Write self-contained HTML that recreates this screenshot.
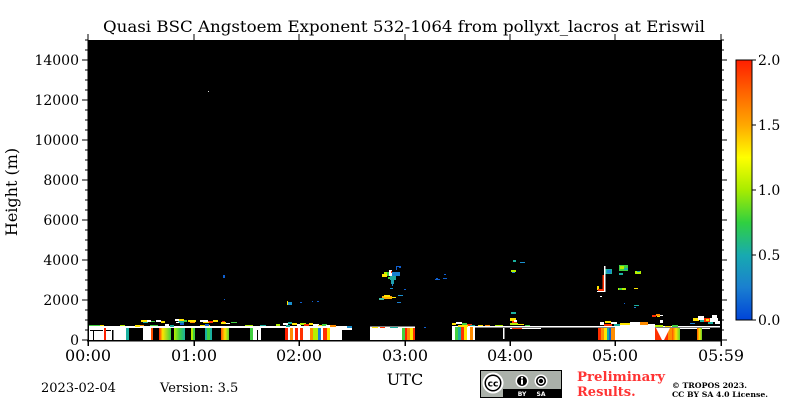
<!DOCTYPE html>
<html><head><meta charset="utf-8"><style>
html,body{margin:0;padding:0;background:#fff;}
svg{display:block;}
</style></head><body>
<svg width="800" height="400" xmlns="http://www.w3.org/2000/svg" font-family="'DejaVu Serif', 'Liberation Serif', serif">
<defs>
<linearGradient id="cb" x1="0" y1="0" x2="0" y2="1">
<stop offset="0" stop-color="#ff1e00"/>
<stop offset="0.125" stop-color="#ff6400"/>
<stop offset="0.25" stop-color="#ffa800"/>
<stop offset="0.375" stop-color="#ffff00"/>
<stop offset="0.5" stop-color="#a8ec00"/>
<stop offset="0.625" stop-color="#30d040"/>
<stop offset="0.75" stop-color="#18aab0"/>
<stop offset="0.875" stop-color="#1a7fd0"/>
<stop offset="1" stop-color="#0044d8"/>
</linearGradient>
<linearGradient id="ryg" x1="0" y1="0" x2="1" y2="0">
<stop offset="0" stop-color="#ff2000"/><stop offset="0.3" stop-color="#ffe600"/><stop offset="1" stop-color="#40d040"/>
</linearGradient>
<linearGradient id="gt" x1="0" y1="0" x2="1" y2="0">
<stop offset="0" stop-color="#b4f000"/><stop offset="0.5" stop-color="#40d040"/><stop offset="1" stop-color="#1ab0a0"/>
</linearGradient>
<linearGradient id="oyg" x1="0" y1="0" x2="1" y2="0">
<stop offset="0" stop-color="#ff5000"/><stop offset="0.5" stop-color="#ffe600"/><stop offset="1" stop-color="#60d030"/>
</linearGradient>
</defs>
<rect width="800" height="400" fill="#fff"/>
<text x="404" y="32" font-size="16" text-anchor="middle" textLength="602" lengthAdjust="spacingAndGlyphs">Quasi BSC Angstoem Exponent 532-1064 from pollyxt_lacros at Eriswil</text>

<rect x="88" y="40" width="633" height="300" fill="#000"/>

<g shape-rendering="crispEdges">
<!-- top white line -->
<rect x="88" y="326" width="257" height="2" fill="#fff"/>
<rect x="370" y="326.5" width="45" height="1.5" fill="#fff"/>
<rect x="452" y="326" width="268" height="1.5" fill="#fff"/>
<rect x="510" y="328" width="31" height="1" fill="#fff"/>
<rect x="680" y="328" width="30" height="1" fill="#fff"/>
<!-- columns -->
<rect x="88" y="328" width="16" height="12" fill="#fff"/>
<rect x="93" y="330" width="1" height="10" fill="#000"/>
<rect x="90" y="330" width="13" height="1" fill="#000"/>
<rect x="104" y="328" width="2" height="12" fill="#ff2000"/>
<rect x="106" y="328" width="20" height="12" fill="#fff"/>
<rect x="112" y="330" width="1.5" height="10" fill="#000"/>
<rect x="106" y="330" width="5" height="1" fill="#000"/>
<rect x="126" y="328" width="3" height="12" fill="#1ab0a0"/>
<rect x="143" y="328" width="8" height="12" fill="#fff"/>
<rect x="151" y="328" width="2" height="12" fill="#ff5000"/>
<rect x="159" y="328" width="12" height="12" fill="url(#ryg)"/>
<rect x="174" y="328" width="11" height="12" fill="url(#gt)"/>
<rect x="191" y="328" width="4" height="12" fill="#b4f000"/>
<rect x="193" y="328" width="2" height="12" fill="#40d040"/>
<rect x="205" y="328" width="7" height="12" fill="#1ab0a0"/>
<rect x="207" y="328" width="3" height="12" fill="#40d040"/>
<rect x="221" y="328" width="8" height="12" fill="url(#oyg)"/>
<rect x="250" y="328" width="3" height="12" fill="#40d040"/>
<rect x="253" y="328" width="8" height="12" fill="#fff"/>
<rect x="257" y="330" width="1" height="10" fill="#000"/>
<rect x="285" y="328" width="3" height="12" fill="#ff2000"/>
<rect x="288" y="328" width="2" height="12" fill="#fff"/>
<rect x="290" y="328" width="3" height="12" fill="#ff8c00"/>
<rect x="293" y="328" width="2" height="12" fill="#fff"/>
<rect x="295" y="328" width="3" height="12" fill="#ff2000"/>
<rect x="298" y="328" width="2" height="12" fill="#fff"/>
<rect x="300" y="328" width="3" height="12" fill="#ff3000"/>
<rect x="303" y="328" width="7" height="12" fill="#fff"/>
<rect x="310" y="328" width="3" height="12" fill="#ff8c00"/>
<rect x="313" y="328" width="5" height="12" fill="#b4f000"/>
<rect x="318" y="328" width="3" height="12" fill="#1a80d0"/>
<rect x="321" y="328" width="2" height="12" fill="#fff"/>
<rect x="323" y="328" width="4" height="12" fill="#ff3000"/>
<rect x="327" y="328" width="3" height="12" fill="#ffe600"/>
<rect x="330" y="328" width="12" height="12" fill="#fff"/>
<rect x="342" y="326" width="10" height="4" fill="#fff"/>
<rect x="370" y="327" width="32" height="13" fill="#fff"/>
<rect x="402" y="328" width="3" height="12" fill="#40d040"/>
<rect x="405" y="328" width="2" height="12" fill="#ff2000"/>
<rect x="407" y="328" width="3" height="12" fill="#ff8c00"/>
<rect x="410" y="328" width="3" height="12" fill="#ffe600"/>
<rect x="413" y="328" width="2" height="12" fill="#ff3000"/>
<rect x="452" y="327" width="3" height="13" fill="#fff"/>
<rect x="455" y="327" width="3" height="13" fill="#40d040"/>
<rect x="458" y="327" width="3" height="13" fill="#1ab0a0"/>
<rect x="461" y="327" width="3" height="13" fill="#ff3000"/>
<rect x="464" y="327" width="3" height="13" fill="#ffe600"/>
<rect x="467" y="327" width="3" height="13" fill="#fff"/>
<rect x="470" y="327" width="3" height="13" fill="#ff8c00"/>
<rect x="473" y="327" width="2" height="13" fill="#fff"/>
<rect x="503" y="328" width="1.5" height="11" fill="#fff"/>
<rect x="598" y="328" width="3" height="12" fill="#ff3000"/>
<rect x="601" y="328" width="3" height="12" fill="#ff8c00"/>
<rect x="604" y="328" width="3" height="12" fill="#ffe600"/>
<rect x="607" y="328" width="2" height="12" fill="#1ab0a0"/>
<rect x="609" y="328" width="2" height="12" fill="#1060d0"/>
<rect x="611" y="328" width="4" height="12" fill="#ff8c00"/>
<rect x="615" y="324" width="40" height="16" fill="#fff"/>
<rect x="655" y="328" width="17" height="12" fill="#ff3000"/>
<rect x="668" y="328" width="4" height="12" fill="#ff8c00"/>
<polygon points="656,328 670,328 664,340 662,340" fill="#fff"/>
<rect x="672" y="328" width="8" height="12" fill="url(#oyg)"/>
<rect x="697" y="328" width="5" height="12" fill="url(#oyg)"/>
<!-- colored bits on top line -->
<rect x="88" y="325" width="12" height="1" fill="#40d040"/>
<rect x="100" y="325" width="4" height="1" fill="#ffe600"/>
<rect x="120" y="325" width="5" height="1" fill="#b4f000"/>
<rect x="138" y="325" width="6" height="1" fill="#ff8c00"/>
<rect x="150" y="325" width="8" height="1" fill="#40d040"/>
<rect x="200" y="325" width="10" height="1" fill="#ffe600"/>
<rect x="245" y="325" width="8" height="1" fill="#b4f000"/>
<rect x="260" y="325" width="6" height="1" fill="#1ab0a0"/>
<!-- low clouds -->
<rect x="141" y="320" width="6" height="2" fill="#ffe600"/>
<rect x="147" y="320" width="4" height="2" fill="#fff"/>
<rect x="151" y="321" width="4" height="1" fill="#40d040"/>
<rect x="143" y="322" width="5" height="1" fill="#1ab0a0"/>
<rect x="156" y="320" width="5" height="2" fill="#fff"/>
<rect x="161" y="321" width="4" height="2" fill="#ffe600"/>
<rect x="175" y="319" width="4" height="2" fill="#fff"/>
<rect x="179" y="319" width="5" height="2" fill="#ffe600"/>
<rect x="184" y="320" width="3" height="2" fill="#40d040"/>
<rect x="178" y="321" width="6" height="2" fill="#1ab0a0"/>
<rect x="176" y="322" width="3" height="1" fill="#fff"/>
<rect x="180" y="323" width="4" height="2" fill="#1060d0"/>
<rect x="188" y="320" width="8" height="2" fill="#ffe600"/>
<rect x="190" y="322" width="5" height="1" fill="#ff8c00"/>
<rect x="200" y="320" width="8" height="2" fill="#fff"/>
<rect x="208" y="321" width="5" height="2" fill="#ff3000"/>
<rect x="203" y="322" width="6" height="1" fill="#ffe600"/>
<rect x="213" y="320" width="5" height="2" fill="#ffe600"/>
<rect x="205" y="324" width="4" height="2" fill="#1060d0"/>
<rect x="221" y="322" width="5" height="2" fill="#ffe600"/>
<rect x="222" y="321" width="3" height="1" fill="#ff3000"/>
<rect x="226" y="323" width="4" height="1" fill="#fff"/>
<rect x="231" y="322" width="6" height="1" fill="#40d040"/>
<rect x="165" y="324" width="4" height="2" fill="#fff"/>
<rect x="170" y="325" width="4" height="2" fill="#1ab0a0"/>
<rect x="135" y="325" width="5" height="2" fill="#ffe600"/>
<rect x="276" y="324" width="4" height="2" fill="#b4f000"/>
<rect x="283" y="323" width="5" height="2" fill="#fff"/>
<rect x="286" y="325" width="4" height="2" fill="#1ab0a0"/>
<rect x="288" y="322" width="4" height="2" fill="#1ab0a0"/>
<rect x="292" y="323" width="5" height="2" fill="#ffe600"/>
<rect x="297" y="324" width="4" height="2" fill="#fff"/>
<rect x="300" y="323" width="6" height="2" fill="#b4f000"/>
<rect x="304" y="324" width="5" height="2" fill="#ff3000"/>
<rect x="309" y="323" width="4" height="2" fill="#ffe600"/>
<rect x="313" y="324" width="6" height="2" fill="#fff"/>
<rect x="318" y="325" width="6" height="1" fill="#ffe600"/>
<rect x="322" y="324" width="5" height="2" fill="#40d040"/>
<rect x="326" y="325" width="4" height="2" fill="#fff"/>
<rect x="330" y="325" width="6" height="2" fill="#ff8c00"/>
<rect x="336" y="326" width="5" height="1" fill="#fff"/>
<rect x="347" y="326" width="5" height="2" fill="#1a90d0"/>
<rect x="372" y="327" width="6" height="1" fill="#ffe600"/>
<rect x="380" y="327" width="5" height="1" fill="#ff3000"/>
<rect x="390" y="327" width="8" height="1" fill="#1ab0a0"/>
<rect x="424" y="327" width="2" height="1" fill="#1060d0"/>
<rect x="452" y="323" width="4" height="2" fill="#ffe600"/>
<rect x="456" y="322" width="6" height="2" fill="#fff"/>
<rect x="462" y="323" width="5" height="2" fill="#40d040"/>
<rect x="467" y="324" width="5" height="2" fill="#ff3000"/>
<rect x="458" y="325" width="10" height="2" fill="#ffe600"/>
<rect x="470" y="325" width="5" height="1" fill="#1ab0a0"/>
<rect x="478" y="325" width="5" height="1" fill="#ffe600"/>
<rect x="485" y="325" width="5" height="1" fill="#ff8c00"/>
<rect x="495" y="325" width="8" height="1" fill="#b4f000"/>
<rect x="510" y="318" width="6" height="3" fill="#ffe600"/>
<rect x="512" y="321" width="5" height="3" fill="#ff3000"/>
<rect x="510" y="323" width="8" height="2" fill="#b4f000"/>
<rect x="514" y="320" width="3" height="2" fill="#fff"/>
<rect x="518" y="324" width="6" height="1" fill="#ffe600"/>
<rect x="525" y="325" width="5" height="1" fill="#40d040"/>
<rect x="512" y="328" width="10" height="1" fill="#ff3000"/>
<rect x="600" y="322" width="4" height="3" fill="#fff"/>
<rect x="605" y="321" width="6" height="2" fill="#ffe600"/>
<rect x="611" y="322" width="6" height="2" fill="#fff"/>
<rect x="604" y="324" width="8" height="2" fill="#ff3000"/>
<rect x="614" y="324" width="6" height="2" fill="#1ab0a0"/>
<rect x="620" y="323" width="10" height="2" fill="#ffe600"/>
<rect x="630" y="322" width="10" height="3" fill="#fff"/>
<rect x="640" y="322" width="8" height="3" fill="#ff8c00"/>
<rect x="652" y="315" width="4" height="2" fill="#ff3000"/>
<rect x="656" y="314" width="4" height="2" fill="#ff8c00"/>
<rect x="660" y="315" width="3" height="1" fill="#fff"/>
<rect x="657" y="316" width="3" height="1" fill="#ffe600"/>
<rect x="655" y="325" width="8" height="2" fill="#b4f000"/>
<rect x="665" y="326" width="6" height="1" fill="#ffe600"/>
<rect x="672" y="325" width="6" height="2" fill="#40d040"/>
<rect x="660" y="320" width="3" height="3" fill="#fff"/>
<rect x="693" y="318" width="6" height="3" fill="#ffe600"/>
<rect x="698" y="316" width="6" height="4" fill="#fff"/>
<rect x="704" y="318" width="6" height="4" fill="#ff3000"/>
<rect x="706" y="319" width="3" height="2" fill="#ffe600"/>
<rect x="710" y="318" width="8" height="4" fill="#fff"/>
<rect x="712" y="315" width="5" height="3" fill="#fff"/>
<rect x="715" y="321" width="5" height="3" fill="#fff"/>
<rect x="700" y="320" width="4" height="2" fill="#1ab0a0"/>
<rect x="708" y="322" width="5" height="2" fill="#1ab0a0"/>
<rect x="690" y="323" width="5" height="1" fill="#1a80d0"/>
<!-- scattered upper features -->
<rect x="208" y="91" width="1" height="1" fill="#ddd"/>
<rect x="223" y="275" width="2" height="3" fill="#1060d0"/>
<rect x="224" y="299" width="1" height="1" fill="#1060d0"/>
<rect x="287" y="301" width="1" height="4" fill="#ffe600"/>
<rect x="288" y="302" width="4" height="3" fill="#1a90d0"/>
<rect x="300" y="302" width="2" height="1" fill="#1060d0"/>
<rect x="312" y="301" width="1" height="1" fill="#1060d0"/>
<rect x="317" y="301" width="2" height="1" fill="#1060d0"/>
<!-- 03:00 -->
<rect x="382" y="274" width="5" height="3" fill="#ffe600"/>
<rect x="384" y="272" width="3" height="2" fill="#b4f000"/>
<rect x="387" y="272" width="3" height="4" fill="#40d040"/>
<rect x="392" y="272" width="8" height="4" fill="#1a80d0"/>
<rect x="390" y="276" width="6" height="4" fill="#20a8a0"/>
<rect x="391" y="280" width="3" height="4" fill="#20a0b0"/>
<rect x="392" y="284" width="1" height="2" fill="#1a80d0"/>
<rect x="388" y="277" width="2" height="2" fill="#40d040"/>
<rect x="389" y="270" width="3" height="6" fill="#fff"/>
<rect x="391" y="271" width="1" height="2" fill="#ff3000"/>
<rect x="396" y="266" width="4" height="1" fill="#1060d0"/>
<rect x="396" y="267" width="1" height="3" fill="#1060d0"/>
<rect x="399" y="266" width="2" height="2" fill="#1060d0"/>
<rect x="390" y="288" width="3" height="1" fill="#1a90d0"/>
<rect x="404" y="289" width="2" height="1" fill="#1060d0"/>
<rect x="382" y="296" width="10" height="3" fill="#ffb000"/>
<rect x="384" y="295" width="6" height="2" fill="#ffe600"/>
<rect x="379" y="298" width="5" height="2" fill="#40c0a0"/>
<rect x="392" y="297" width="4" height="1" fill="#ffe600"/>
<rect x="398" y="295" width="5" height="1" fill="#1a90d0"/>
<rect x="397" y="302" width="4" height="1" fill="#1a80d0"/>
<rect x="435" y="279" width="5" height="1" fill="#1060d0"/>
<rect x="436" y="278" width="2" height="1" fill="#1060d0"/>
<rect x="443" y="278" width="4" height="1" fill="#1060d0"/>
<rect x="444" y="274" width="2" height="1" fill="#1060d0"/>
<!-- 04:00 -->
<rect x="513" y="260" width="3" height="2" fill="#1ab0a0"/>
<rect x="520" y="262" width="5" height="1" fill="#1a90d0"/>
<rect x="511" y="270" width="5" height="2" fill="#b4f000"/>
<rect x="512" y="272" width="3" height="1" fill="#1a80d0"/>
<rect x="511" y="312" width="5" height="2" fill="#1ab0a0"/>
<!-- 05:00 -->
<rect x="602.7" y="275" width="1.3" height="15" fill="#ff3000"/>
<rect x="604" y="266" width="1.5" height="26" fill="#fff"/>
<rect x="597" y="286" width="2" height="4" fill="#ffe600"/>
<rect x="598" y="289" width="6" height="2" fill="#ff3000"/>
<rect x="597" y="291" width="8" height="1" fill="#fff"/>
<rect x="600" y="296" width="2" height="1" fill="#fff"/>
<rect x="605.5" y="269" width="6.5" height="5" fill="#1ab0a0"/>
<rect x="607" y="270" width="4" height="3" fill="#1a80d0"/>
<rect x="619" y="265" width="9" height="6" fill="#40d040"/>
<rect x="620" y="266" width="4" height="3" fill="#b4f000"/>
<rect x="624" y="268" width="4" height="2" fill="#1ab0a0"/>
<rect x="635" y="271" width="6" height="3" fill="#b4f000"/>
<rect x="637" y="271" width="3" height="1" fill="#1ab0a0"/>
<rect x="619" y="273" width="4" height="2" fill="#1ab0a0"/>
<rect x="618" y="288" width="8" height="2" fill="#b4f000"/>
<rect x="619" y="288" width="3" height="2" fill="#40d040"/>
<rect x="634" y="288" width="4" height="1" fill="#ffe600"/>
<rect x="634" y="305" width="5" height="1" fill="#1ab0a0"/>
<rect x="634" y="307" width="2" height="1" fill="#1a80d0"/>
<rect x="624" y="303" width="1" height="1" fill="#1060d0"/>
</g>

<!-- axes -->
<g stroke="#000" fill="none" shape-rendering="crispEdges">
<path d="M88 40V341M721 40V341M87 340.5H722" stroke-width="1.5"/>
<path d="M82 340H88M82 300H88M82 260H88M82 220H88M82 180H88M82 140H88M82 100H88M82 60H88"/>
<path d="M85 330H88M85 320H88M85 310H88M85 290H88M85 280H88M85 270H88M85 250H88M85 240H88M85 230H88M85 210H88M85 200H88M85 190H88M85 170H88M85 160H88M85 150H88M85 130H88M85 120H88M85 110H88M85 90H88M85 80H88M85 70H88M85 50H88M85 40H88"/>
<path d="M721 340H727M721 300H727M721 260H727M721 220H727M721 180H727M721 140H727M721 100H727M721 60H727"/>
<path d="M721 330H724M721 320H724M721 310H724M721 290H724M721 280H724M721 270H724M721 250H724M721 240H724M721 230H724M721 210H724M721 200H724M721 190H724M721 170H724M721 160H724M721 150H724M721 130H724M721 120H724M721 110H724M721 90H724M721 80H724M721 70H724M721 50H724M721 40H724"/>
<path d="M88 340V346M194 340V346M299 340V346M405 340V346M510 340V346M615 340V346M721 340V346" stroke-width="1.5"/>
<path d="M88 40V34M194 40V34M299 40V34M405 40V34M510 40V34M615 40V34M721 40V34"/>
</g>

<g font-size="14" text-anchor="end">
<text x="79" y="345">0</text>
<text x="79" y="305">2000</text>
<text x="79" y="265">4000</text>
<text x="79" y="225">6000</text>
<text x="79" y="185">8000</text>
<text x="79" y="145">10000</text>
<text x="79" y="105">12000</text>
<text x="79" y="65">14000</text>
</g>
<text transform="translate(17,192) rotate(-90)" font-size="16" text-anchor="middle">Height (m)</text>

<g font-size="16" text-anchor="middle">
<text x="88" y="361">00:00</text>
<text x="194" y="361">01:00</text>
<text x="299" y="361">02:00</text>
<text x="405" y="361">03:00</text>
<text x="510" y="361">04:00</text>
<text x="615" y="361">05:00</text>
<text x="721" y="361">05:59</text>
<text x="405" y="385">UTC</text>
</g>

<!-- colorbar -->
<rect x="736" y="60" width="16" height="260" fill="url(#cb)" stroke="#000" stroke-width="1"/>
<path d="M752 60H756M752 125H756M752 190H756M752 255H756M752 320H756" stroke="#000" shape-rendering="crispEdges"/>
<g font-size="14">
<text x="758" y="65">2.0</text>
<text x="758" y="130">1.5</text>
<text x="758" y="195">1.0</text>
<text x="758" y="260">0.5</text>
<text x="758" y="325">0.0</text>
</g>

<g font-size="13">
<text x="41" y="392">2023-02-04</text>
<text x="160" y="392">Version: 3.5</text>
</g>

<!-- CC logo -->
<g>
<rect x="480.5" y="370.5" width="81" height="27" fill="#abb1aa" stroke="#000" stroke-width="1"/>
<rect x="503" y="389" width="58" height="8" fill="#000"/>
<circle cx="493" cy="383" r="10.5" fill="#fff"/>
<circle cx="493" cy="383" r="8.5" fill="#000"/>
<circle cx="493" cy="383" r="7" fill="#fff"/>
<text x="493" y="386.5" font-family="'DejaVu Sans', sans-serif" font-size="9" font-weight="bold" text-anchor="middle" fill="#000">cc</text>
<circle cx="522" cy="381" r="6.5" fill="#fff"/>
<circle cx="522" cy="381" r="5" fill="#000"/>
<circle cx="522" cy="377.8" r="1.1" fill="#fff"/>
<rect x="521" y="379.5" width="2" height="5" fill="#fff"/>
<circle cx="541" cy="381" r="6.5" fill="#fff"/>
<circle cx="541" cy="381" r="5" fill="#000"/>
<circle cx="541" cy="381" r="2.8" fill="none" stroke="#fff" stroke-width="1.3"/>
<text x="522" y="396" font-family="'DejaVu Sans', sans-serif" font-size="6" font-weight="bold" text-anchor="middle" fill="#fff">BY</text>
<text x="541" y="396" font-family="'DejaVu Sans', sans-serif" font-size="6" font-weight="bold" text-anchor="middle" fill="#fff">SA</text>
</g>

<g font-size="13" font-weight="bold" fill="#ff3333">
<text x="577" y="381" textLength="88" lengthAdjust="spacingAndGlyphs">Preliminary</text>
<text x="577" y="396">Results.</text>
</g>
<g font-size="7.5" font-weight="bold">
<text x="672" y="388" textLength="75" lengthAdjust="spacingAndGlyphs">© TROPOS 2023.</text>
<text x="672" y="397" textLength="96" lengthAdjust="spacingAndGlyphs">CC BY SA 4.0 License.</text>
</g>
</svg>
</body></html>
